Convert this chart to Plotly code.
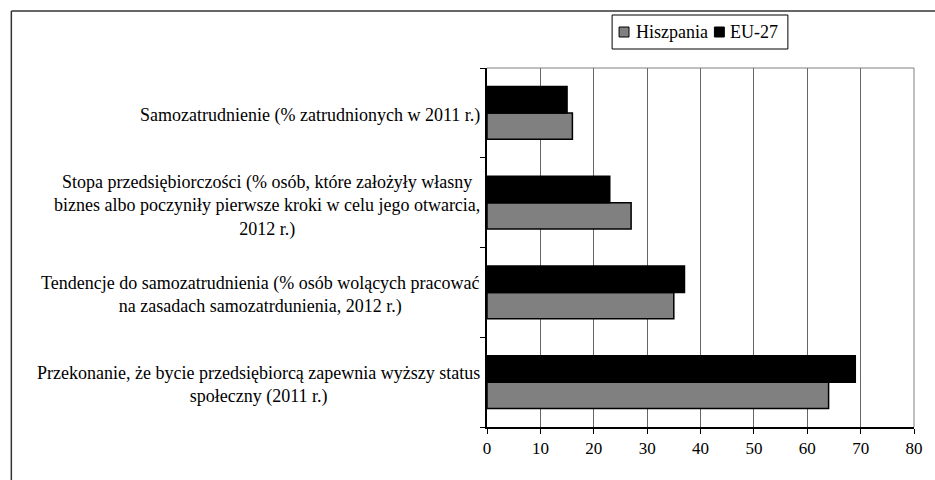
import plotly.graph_objects as go

categories = [
    "Samozatrudnienie (% zatrudnionych w 2011 r.)",
    "Stopa przedsiębiorczości (% osób, które założyły własny<br>biznes albo poczyniły pierwsze kroki w celu jego otwarcia,<br>2012 r.)",
    "Tendencje do samozatrudnienia (% osób wolących pracować<br>na zasadach samozatrdunienia, 2012 r.)",
    "Przekonanie, że bycie przedsiębiorcą zapewnia wyższy status<br>społeczny (2011 r.)",
]
keys = ["c1", "c2", "c3", "c4"]
series_names = ["Hiszpania", "EU-27"]
hiszpania = [16, 27, 35, 64]
eu27 = [15, 23, 37, 69]
x_ticks = [0, 10, 20, 30, 40, 50, 60, 70, 80]

FONT = "Liberation Serif"
COLORS = {"Hiszpania": "#808080", "EU-27": "#000000"}
W, H = 935, 480
L, R, T, B = 487, 18, 68, 53
pw, ph = W - L - R, H - T - B

def px(xp):
    return (xp - L) / pw

def py(yp):
    return (H - B - yp) / ph

fig = go.Figure()
for name, vals in zip(series_names, [hiszpania, eu27]):
    fig.add_trace(go.Bar(
        y=keys, x=vals, name=name, orientation="h",
        marker=dict(color=COLORS[name], line=dict(color="#000000", width=1.5)),
    ))

annotations = []
for k, label in zip(keys, categories):
    annotations.append(dict(
        x=px(482), xref="paper", y=k, yref="y", text=label, yshift=-3,
        xanchor="right", yanchor="middle", align="center", showarrow=False,
        font=dict(family=FONT, size=18, color="#000000"),
    ))

shapes = [
    # outer frame (top and left)
    dict(type="line", xref="paper", yref="paper", x0=px(8), x1=px(940), y0=py(11), y1=py(11),
         line=dict(color="#333333", width=1.5)),
    dict(type="line", xref="paper", yref="paper", x0=px(8), x1=px(8), y0=py(11), y1=py(490),
         line=dict(color="#333333", width=1.5)),
    # plot area top and right border
    dict(type="line", xref="paper", yref="paper", x0=0, x1=1, y0=1, y1=1,
         line=dict(color="#808080", width=1)),
    dict(type="line", xref="paper", yref="paper", x0=1, x1=1, y0=0, y1=1,
         line=dict(color="#808080", width=1)),
    # legend box
    dict(type="rect", xref="paper", yref="paper", x0=px(613), x1=px(790), y0=py(15), y1=py(49),
         line=dict(color="#000000", width=1), fillcolor="white"),
]

# legend keys
legend_pos = [(620, 636), (716, 731)]
for name, (sx, tx) in zip(series_names, legend_pos):
    shapes.append(dict(type="rect", xref="paper", yref="paper",
                       x0=px(sx), x1=px(sx + 10), y0=py(27), y1=py(37),
                       line=dict(color="#000000", width=1), fillcolor=COLORS[name]))
    annotations.append(dict(x=px(tx - 1), xref="paper", y=py(32), yref="paper", text=name,
                            xanchor="left", yanchor="middle", showarrow=False,
                            font=dict(family=FONT, size=18, color="#000000")))

fig.update_layout(
    width=W, height=H,
    margin=dict(l=L, r=R, t=T, b=B, pad=0),
    paper_bgcolor="white", plot_bgcolor="white",
    barmode="group", bargap=0.415, bargroupgap=0,
    font=dict(family=FONT, size=17, color="#000000"),
    showlegend=False,
    xaxis=dict(
        range=[0, 80], tickvals=x_ticks, ticktext=[str(v) for v in x_ticks],
        showgrid=True, gridcolor="#666666", gridwidth=1,
        showline=True, linecolor="#000000", linewidth=1.5,
        ticks="outside", ticklen=5, tickcolor="#000000",
        zeroline=False, fixedrange=True,
        tickfont=dict(family=FONT, size=17, color="#000000"),
    ),
    yaxis=dict(
        type="category", categoryorder="array", categoryarray=list(reversed(keys)),
        showticklabels=False, tickson="boundaries",
        ticks="outside", ticklen=5, tickcolor="#000000",
        showline=True, linecolor="#000000", linewidth=1.5,
        showgrid=False, zeroline=False, fixedrange=True,
    ),
    annotations=annotations,
    shapes=shapes,
)

fig.write_html("out.html", config={"displayModeBar": False},
               post_script="document.body.style.margin='0';")
